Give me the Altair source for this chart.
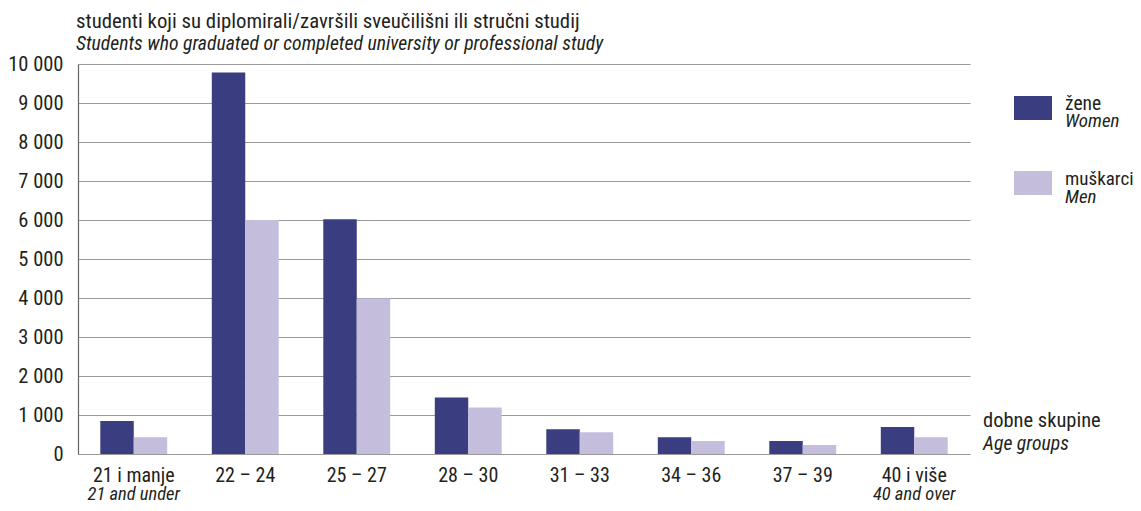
import altair as alt
import pandas as pd

groups_hr = ["21 i manje", "22 – 24", "25 – 27", "28 – 30", "31 – 33", "34 – 36", "37 – 39", "40 i više"]
groups_en = ["21 and under", "", "", "", "", "", "", "40 and over"]
women = [846, 9780, 6020, 1450, 635, 430, 333, 690]
men = [430, 6000, 3990, 1190, 560, 333, 230, 430]
series_hr = ["žene", "muškarci"]
series_en = ["Women", "Men"]
colors = ["#3a3d7f", "#c4bddc"]
y_ticks = list(range(0, 10001, 1000))
title_hr = "studenti koji su diplomirali/završili sveučilišni ili stručni studij"
title_en = "Students who graduated or completed university or professional study"
axis_hr = "dobne skupine"
axis_en = "Age groups"

rows = []
for g, w, m in zip(groups_hr, women, men):
    rows.append({"group": g, "series": series_hr[0], "value": w})
    rows.append({"group": g, "series": series_hr[1], "value": m})
df = pd.DataFrame(rows)
lab = pd.DataFrame({"group": groups_hr, "en": groups_en})
one = pd.DataFrame({"k": [0]})

W, H = 892, 390
FONT = "Roboto Condensed, Liberation Sans Narrow, DejaVu Sans Condensed, sans-serif"
TXT = "#231f20"
UP = 20.5
IT = 19.7

bars = alt.Chart(df).mark_bar().encode(
    x=alt.X("group:N", sort=groups_hr,
            scale=alt.Scale(paddingInner=0.4, paddingOuter=0.2),
            axis=alt.Axis(labels=False, ticks=False, title=None,
                          domainColor="#555555", domainWidth=1.5)),
    xOffset=alt.XOffset("series:N", sort=series_hr,
                        scale=alt.Scale(paddingInner=0, paddingOuter=0)),
    y=alt.Y("value:Q", scale=alt.Scale(domain=[0, 10000], nice=False),
            axis=alt.Axis(values=y_ticks, title=None, ticks=False,
                          labelExpr="replace(format(datum.value, ','), ',', ' ')",
                          labelPadding=15, labelFontSize=UP, labelFont=FONT,
                          labelColor=TXT, domainColor="#666666", domainWidth=1.2,
                          gridColor="#9a9a9a", gridWidth=1)),
    color=alt.Color("series:N", sort=series_hr,
                    scale=alt.Scale(domain=series_hr, range=colors), legend=None),
)

lab_hr = alt.Chart(lab).mark_text(baseline="alphabetic", fontSize=20, font=FONT, color=TXT).encode(
    x=alt.X("group:N", sort=groups_hr, axis=None),
    y=alt.value(H + 28),
    text="group:N",
)
lab_en = alt.Chart(lab).mark_text(baseline="alphabetic", fontSize=18.5, font=FONT, color=TXT,
                                  fontStyle="italic").encode(
    x=alt.X("group:N", sort=groups_hr, axis=None),
    y=alt.value(H + 46),
    text="en:N",
)

def txt(s, x, y, italic=False, size=UP):
    return alt.Chart(one).mark_text(text=s, align="left", baseline="alphabetic", fontSize=size,
                                    font=FONT, color=TXT,
                                    fontStyle="italic" if italic else "normal").encode(
        x=alt.value(x), y=alt.value(y))

def box(x, y, c):
    return alt.Chart(one).mark_rect(color=c).encode(
        x=alt.value(x), x2=alt.value(x + 38), y=alt.value(y), y2=alt.value(y + 24))

layers = [bars, lab_hr, lab_en,
          txt(title_hr, -2, -36, size=20.8), txt(title_en, -2, -14, italic=True, size=IT),
          box(936, 32, colors[0]), txt(series_hr[0], 987, 46, size=19.5), txt(series_en[0], 987, 63, italic=True, size=19),
          box(936, 107, colors[1]), txt(series_hr[1], 987, 121, size=19), txt(series_en[1], 987, 139, italic=True, size=19),
          txt(axis_hr, 905, 363), txt(axis_en, 905, 386, italic=True, size=IT)]

chart = alt.layer(*layers).properties(
    width=W, height=H,
    padding={"left": 70, "top": 56, "right": 163, "bottom": 49},
    autosize=alt.AutoSizeParams(type="none"),
).configure_view(stroke=None)

chart.save("out.html", embed_options={"renderer": "svg", "actions": False})
